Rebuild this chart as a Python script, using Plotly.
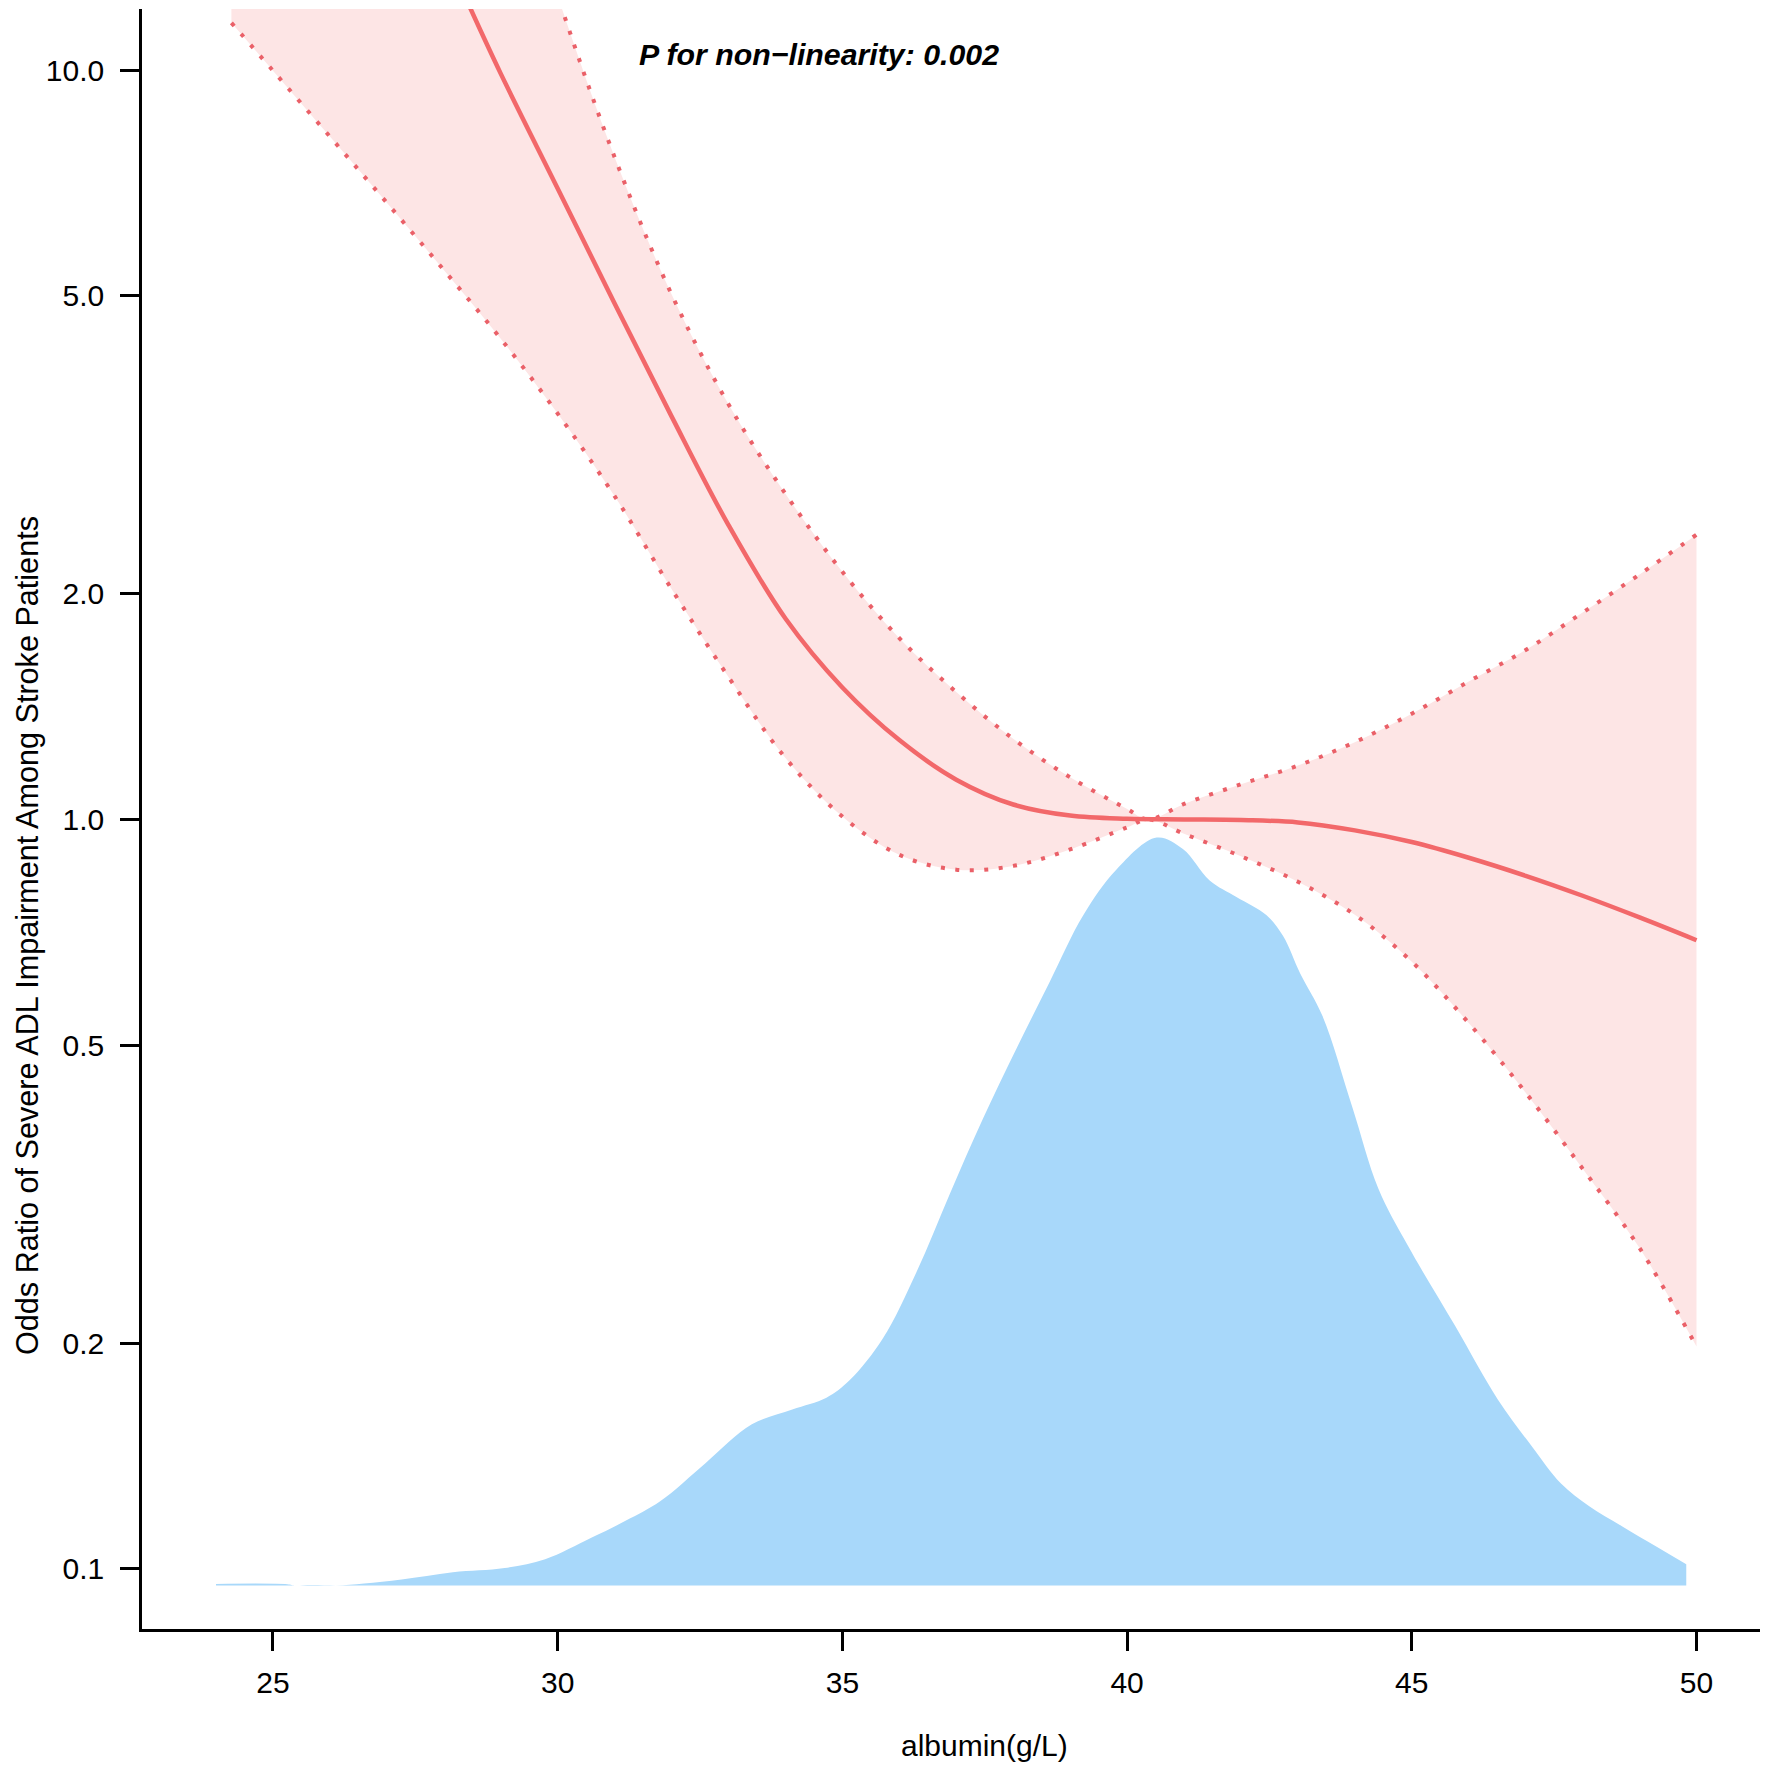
import plotly.graph_objects as go

# albumin (g/L) vs odds ratio
fit_x = [28.4, 29, 30, 31, 32, 33, 34, 35, 36, 37, 38, 39, 40, 41,
         42, 43, 44, 45, 46, 47, 48, 49, 50]
fit_or = [12.4, 9.89, 6.95, 4.88, 3.45, 2.47, 1.854, 1.500, 1.276, 1.130, 1.047, 1.012, 1.002, 1.0,
          0.998, 0.991, 0.967, 0.933, 0.889, 0.841, 0.791, 0.740, 0.690]

lower_x = [24.27, 25, 26, 27, 28, 29, 30, 31, 32, 33, 34, 35, 36, 37, 38, 39, 40, 40.37,
           41, 42, 43, 44, 45, 46, 47, 48, 49, 50]
lower_or = [11.56, 9.98, 8.15, 6.65, 5.41, 4.38, 3.48, 2.70, 2.03, 1.549, 1.208, 1.009, 0.897,
            0.857, 0.867, 0.912, 0.976, 1.0,
            0.957, 0.893, 0.826, 0.746, 0.646, 0.535, 0.432, 0.342, 0.268, 0.198]

upper_x = [24.27, 29, 30, 31, 32, 33, 34, 35, 36, 37, 38, 39, 40, 40.37,
           41, 42, 43, 44, 45, 46, 47, 48, 49, 50]
upper_or = [60, 22, 12.56, 7.65, 5.02, 3.58, 2.72, 2.14, 1.745, 1.479, 1.281, 1.138, 1.033, 1.0,
            1.049, 1.114, 1.180, 1.268, 1.384, 1.528, 1.683, 1.888, 2.123, 2.399]

# albumin distribution (density drawn on the OR axis, baseline near 0.095)
dens_base = 0.095
dens_x = [24.0, 25.25, 25.4, 26.1, 26.6, 27.26, 28.16, 29.07, 29.78, 30.59, 31.20, 31.80,
          32.60, 33.41, 34.12, 34.72, 35.13, 35.71, 36.30, 36.89, 37.47, 38.06, 38.64, 39.23,
          39.81, 40.52, 40.98, 41.45, 41.92, 42.45, 42.74, 43.04, 43.43, 43.96, 44.41, 44.93,
          45.76, 46.51, 47.10, 47.62, 48.11, 48.69, 49.30, 49.82]
dens_top = [0.0955, 0.0954, 0.0950, 0.0950, 0.0956, 0.0968, 0.0990, 0.1003, 0.1030, 0.1100, 0.1160, 0.1231,
            0.1385, 0.1559, 0.1632, 0.1692, 0.1786, 0.2029, 0.2488, 0.317, 0.399, 0.495, 0.607, 0.745,
            0.857, 0.946, 0.913, 0.829, 0.788, 0.745, 0.699, 0.623, 0.547, 0.412, 0.322, 0.270,
            0.211, 0.1683, 0.146, 0.130, 0.1213, 0.114, 0.107, 0.1014]

x_ticks = [25, 30, 35, 40, 45, 50]
y_ticks = [0.1, 0.2, 0.5, 1, 2, 5, 10]
y_ticktext = ["0.1", "0.2", "0.5", "1.0", "2.0", "5.0", "10.0"]

red = "rgb(242,104,106)"
dot_red = "rgb(234,96,104)"
font = "Liberation Sans, Arial, sans-serif"

fig = go.Figure()

# CI band
fig.add_trace(go.Scatter(x=lower_x, y=lower_or, mode="lines", line=dict(width=0, shape="spline"),
                         hoverinfo="skip"))
fig.add_trace(go.Scatter(x=upper_x, y=upper_or, mode="lines", line=dict(width=0, shape="spline"),
                         fill="tonexty", fillcolor="rgb(253,229,229)", hoverinfo="skip"))

# density
fig.add_trace(go.Scatter(x=[dens_x[0], dens_x[-1]], y=[dens_base, dens_base], mode="lines",
                         line=dict(width=0), hoverinfo="skip"))
fig.add_trace(go.Scatter(x=dens_x, y=dens_top, mode="lines", line=dict(width=0, shape="spline"),
                         fill="tonexty", fillcolor="rgb(168,216,250)", hoverinfo="skip"))

# CI borders and fit
for cx, cy in [(lower_x, lower_or), (upper_x, upper_or)]:
    fig.add_trace(go.Scatter(x=cx, y=cy, mode="lines",
                             line=dict(color=dot_red, width=4, dash="4px,10.5px", shape="spline")))
fig.add_trace(go.Scatter(x=fit_x, y=fit_or, mode="lines",
                         line=dict(color=red, width=4.5, shape="spline")))

fig.update_layout(
    width=1771, height=1767,
    margin=dict(l=142, r=11, t=9, b=138),
    paper_bgcolor="white", plot_bgcolor="white",
    showlegend=False,
    font=dict(family=font, size=30, color="black"),
    xaxis=dict(range=[22.70, 51.115], tickvals=x_ticks, showgrid=False, zeroline=False,
               showline=True, linecolor="black", linewidth=2.5,
               ticks="outside", ticklen=19, tickwidth=2.5, tickcolor="black",
               ticklabelstandoff=6),
    yaxis=dict(type="log", range=[-1.0802, 1.0814], tickvals=y_ticks, ticktext=y_ticktext,
               showgrid=False, zeroline=False, showline=True, linecolor="black", linewidth=2.5,
               ticks="outside", ticklen=19, tickwidth=2.5, tickcolor="black",
               ticklabelstandoff=10),
    annotations=[
        dict(text="<b><i>P for non\u2212linearity: 0.002</i></b>", xref="paper", yref="paper",
             x=0.306, y=0.9722, xanchor="left", yanchor="middle", showarrow=False,
             font=dict(size=30.3)),
        dict(text="albumin(g/L)", xref="paper", yref="paper", x=0.521, y=0,
             xanchor="center", yanchor="middle", yshift=-116, showarrow=False,
             font=dict(size=30)),
        dict(text="Odds Ratio of Severe ADL Impairment Among Stroke Patients",
             xref="paper", yref="paper", x=0, y=0.4278, xanchor="center", yanchor="middle",
             xshift=-114, textangle=-90, showarrow=False, font=dict(size=30.6)),
    ],
)

fig.write_html("out.html", config={"displayModeBar": False},
               post_script="document.body.style.margin='0';")
